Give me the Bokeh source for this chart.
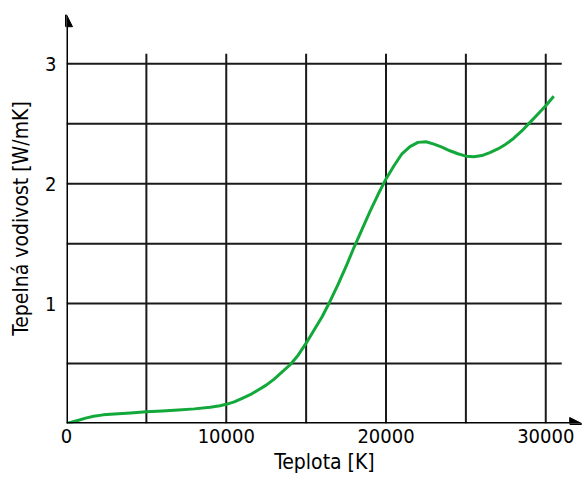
from bokeh.plotting import figure
from bokeh.models import Arrow, NormalHead, FixedTicker, Range1d
from bokeh.embed import file_html
from bokeh.resources import INLINE

# data
temp_k = [0, 300, 700, 1200, 1700, 2300, 3000, 4000, 5000, 6000, 7000, 8000, 9000, 9600,
          10000, 10500, 11000, 11500, 12000, 12500, 13000, 13500, 14000, 14500, 15000,
          15500, 16000, 16500, 17000, 17500, 18000, 18500, 19000, 19500, 20000, 20500,
          21000, 21500, 22000, 22500, 23000, 23500, 24000, 24500, 25000, 25500, 26000,
          26500, 27000, 27500, 28000, 28500, 29000, 29500, 30000, 30500]
conductivity = [0, 0.01, 0.025, 0.045, 0.06, 0.072, 0.08, 0.088, 0.097, 0.105, 0.113, 0.122,
                0.135, 0.148, 0.16, 0.18, 0.21, 0.24, 0.28, 0.32, 0.37, 0.43, 0.49, 0.57,
                0.67, 0.78, 0.89, 1.02, 1.16, 1.31, 1.47, 1.62, 1.77, 1.91, 2.04, 2.15,
                2.25, 2.31, 2.345, 2.35, 2.33, 2.305, 2.275, 2.25, 2.23, 2.225, 2.235,
                2.26, 2.29, 2.33, 2.38, 2.44, 2.51, 2.58, 2.65, 2.73]
x_grid = [5000, 10000, 15000, 20000, 25000, 30000]
y_grid = [0.5, 1.0, 1.5, 2.0, 2.5, 3.0]
x_ticks = [0, 10000, 20000, 30000]
y_ticks = [1, 2, 3]
x_grid_end = 31000
y_grid_end = 3.085
x_arrow_end = 32250
y_arrow_end = 3.41

FONT = "DejaVu Sans Condensed"

p = figure(width=584, height=480, output_backend="svg", toolbar_location=None,
           x_range=Range1d(0, 32300), y_range=Range1d(0, 3.42),
           min_border_left=66, min_border_right=2, min_border_top=13, min_border_bottom=57)
p.outline_line_color = None
p.grid.visible = False

# grid lines
p.segment(x0=x_grid, y0=[0] * len(x_grid), x1=x_grid, y1=[y_grid_end] * len(x_grid),
          line_color="#1a1a1a", line_width=2)
p.segment(x0=[0] * len(y_grid), y0=y_grid, x1=[x_grid_end] * len(y_grid), y1=y_grid,
          line_color="#1a1a1a", line_width=2)

# curve
p.line(temp_k, conductivity, line_color="#13a83a", line_width=3, line_join="round")

# axes with arrows
p.add_layout(Arrow(end=NormalHead(size=12, fill_color="black", line_color="black", line_width=1),
                   x_start=0, y_start=0, x_end=x_arrow_end, y_end=0,
                   line_color="black", line_width=3))
p.add_layout(Arrow(end=NormalHead(size=12, fill_color="black", line_color="black", line_width=1),
                   x_start=0, y_start=0, x_end=0, y_end=y_arrow_end,
                   line_color="black", line_width=3))

for ax in (p.xaxis[0], p.yaxis[0]):
    ax.axis_line_color = None
    ax.major_tick_line_color = None
    ax.minor_tick_line_color = None
    ax.major_tick_out = 0
    ax.major_tick_in = 0
    ax.major_label_text_font = FONT
    ax.major_label_text_font_size = "20px"
    ax.major_label_text_color = "black"
    ax.axis_label_text_font = FONT
    ax.axis_label_text_font_size = "21px"
    ax.axis_label_text_font_style = "normal"
    ax.axis_label_text_color = "black"

p.xaxis[0].ticker = FixedTicker(ticks=x_ticks)
p.yaxis[0].ticker = FixedTicker(ticks=y_ticks)
p.xaxis[0].major_label_standoff = 5
p.yaxis[0].major_label_standoff = 10

p.yaxis[0].axis_label = "Tepelná vodivost [W/mK]"
p.yaxis[0].axis_label_standoff = 9
p.xaxis[0].axis_label = "Teplota [K]"
p.xaxis[0].axis_label_standoff = 4

open("out.html", "w").write(file_html(p, INLINE))
